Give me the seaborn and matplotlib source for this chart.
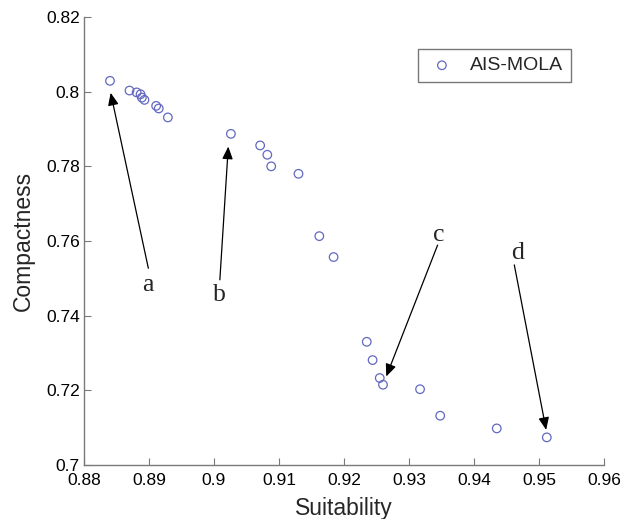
import matplotlib
matplotlib.use("Agg")
import matplotlib.pyplot as plt
import seaborn as sns
import pandas as pd

# Pareto front of the AIS-MOLA solutions
suitability = [0.8840, 0.8870, 0.8881, 0.8887, 0.8889, 0.8893, 0.8911, 0.8915,
               0.8929, 0.9026, 0.9071, 0.9082, 0.9088, 0.9130, 0.9162, 0.9184,
               0.9235, 0.9244, 0.9255, 0.9260, 0.9317, 0.9348, 0.9435, 0.9512]
compactness = [0.8029, 0.8003, 0.7998, 0.7993, 0.7984, 0.7978, 0.7962, 0.7955,
               0.7931, 0.7887, 0.7856, 0.7831, 0.7800, 0.7780, 0.7613, 0.7557,
               0.7330, 0.7281, 0.7233, 0.7215, 0.7203, 0.7132, 0.7098, 0.7074]

# annotated solutions: label, label position, arrow tail, arrow tip
ann_labels = ["a", "b", "c", "d"]
ann_text_xy = [(0.8899, 0.7483), (0.9009, 0.7456), (0.9345, 0.7616), (0.9467, 0.7567)]
ann_tail_xy = [(0.8899, 0.7527), (0.9009, 0.7496), (0.9344, 0.7589), (0.9462, 0.7536)]
ann_tip_xy = [(0.8841, 0.7997), (0.9022, 0.7853), (0.9265, 0.7237), (0.9511, 0.7094)]

x_ticks = [0.88, 0.89, 0.90, 0.91, 0.92, 0.93, 0.94, 0.95, 0.96]
x_ticklabels = ["0.88", "0.89", "0.9", "0.91", "0.92", "0.93", "0.94", "0.95", "0.96"]
y_ticks = [0.70, 0.72, 0.74, 0.76, 0.78, 0.80, 0.82]
y_ticklabels = ["0.7", "0.72", "0.74", "0.76", "0.78", "0.8", "0.82"]

df = pd.DataFrame({"Suitability": suitability, "Compactness": compactness})

sns.set_style("white")
plt.rcParams["font.family"] = ["Liberation Sans", "DejaVu Sans"]

fig = plt.figure(figsize=(6.2, 5.19), dpi=100)
ax = fig.add_axes([84 / 620, 1 - 465 / 519, 520 / 620, 448 / 519])

marker_color = "#6269bf"
sns.scatterplot(data=df, x="Suitability", y="Compactness", ax=ax,
                marker="o", s=38, facecolor="none", edgecolor=marker_color,
                linewidth=0.9, label="AIS-MOLA", zorder=3)

for lab, txy, tail, tip in zip(ann_labels, ann_text_xy, ann_tail_xy, ann_tip_xy):
    ax.text(txy[0], txy[1], lab, ha="center", va="center", fontsize=18.5,
            family=["Liberation Serif", "DejaVu Serif"])
    ax.annotate("", xy=tip, xytext=tail,
                arrowprops=dict(arrowstyle="-|>,head_length=0.75,head_width=0.32",
                                color="black", lw=0.9, shrinkA=0, shrinkB=0))

ax.set_xlim(0.88, 0.96)
ax.set_ylim(0.70, 0.82)
ax.set_xticks(x_ticks)
ax.set_xticklabels(x_ticklabels)
ax.set_yticks(y_ticks)
ax.set_yticklabels(y_ticklabels)

for side in ["top", "right"]:
    ax.spines[side].set_visible(False)
for side in ["left", "bottom"]:
    ax.spines[side].set_color("#7a7a7a")
    ax.spines[side].set_linewidth(1.0)
ax.tick_params(axis="both", direction="in", length=5, width=0.8, color="#7a7a7a",
               labelsize=12.5, labelcolor="black", left=True, bottom=True)
ax.tick_params(axis="y", pad=3)
ax.tick_params(axis="x", pad=6)

ax.set_xlabel("Suitability", fontsize=16.5, labelpad=6)
ax.set_ylabel("Compactness", fontsize=16.5, labelpad=8)

leg = ax.legend(loc="upper right", bbox_to_anchor=(571 / 620, 1 - 49 / 519),
                bbox_transform=fig.transFigure, fontsize=14, frameon=True,
                fancybox=False, borderpad=0.4, handletextpad=0.6,
                handlelength=1.7, borderaxespad=0)
leg.get_frame().set_edgecolor("#555555")
leg.get_frame().set_linewidth(1.0)

fig.savefig("out.png", dpi=100, facecolor="white")
